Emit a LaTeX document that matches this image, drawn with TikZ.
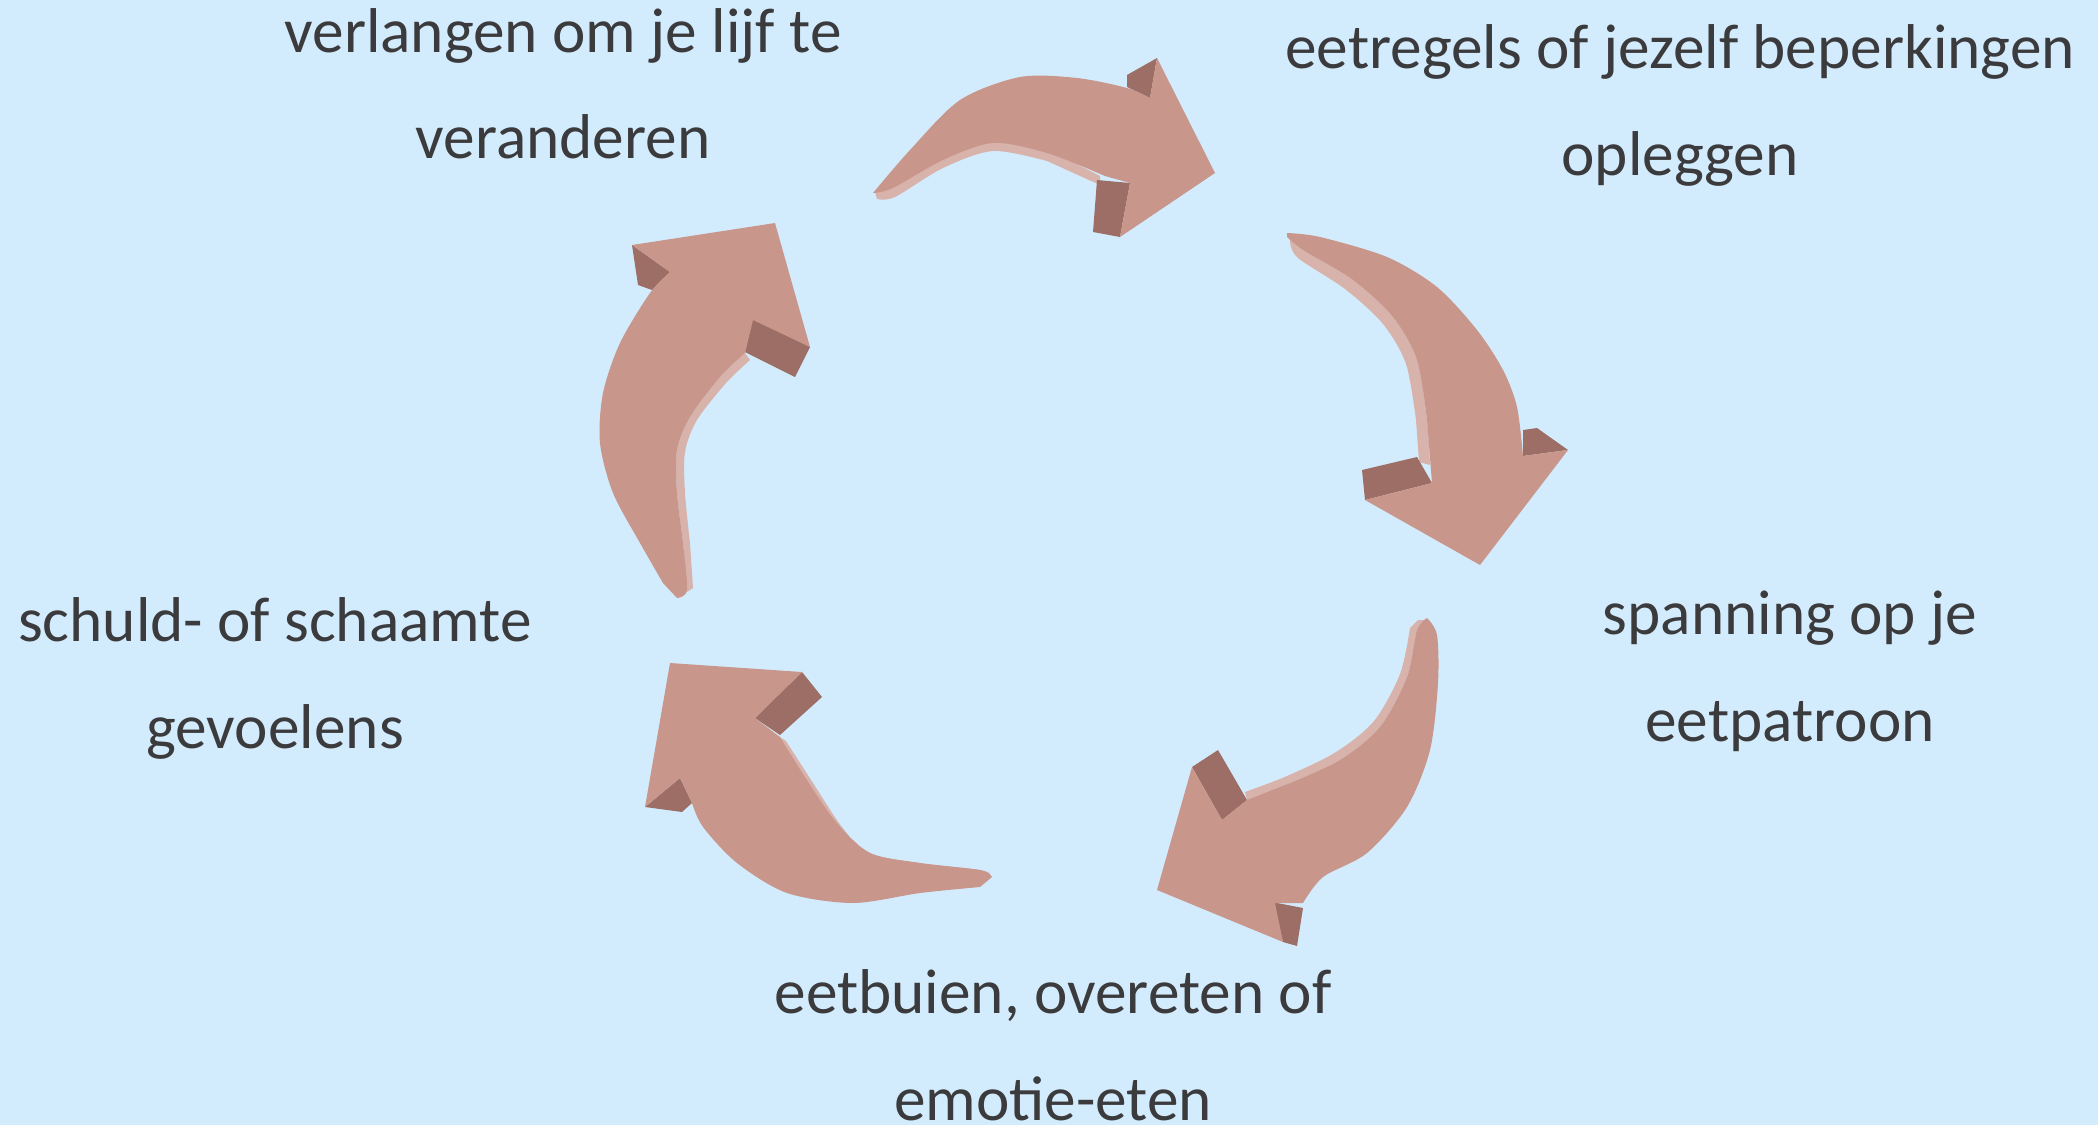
\documentclass[tikz,border=0pt]{standalone}
\usepackage{fontspec}
\setmainfont{Carlito}
\definecolor{bgc}{HTML}{D3ECFD}
\definecolor{frontc}{HTML}{C8968B}
\definecolor{darkc}{HTML}{9C6E65}
\definecolor{underc}{HTML}{D8B3AB}
\definecolor{txtc}{HTML}{3B3B3D}
\begin{document}
\begin{tikzpicture}[x=1pt,y=-1pt,
  lbl/.style={anchor=base,inner sep=0pt,text=txtc,font=\fontsize{63.3}{76}\selectfont},
  front/.style={fill=frontc},
  side/.style={fill=darkc},
  under/.style={fill=underc}]
\useasboundingbox (0,0) rectangle (2098,1125);
\fill[bgc] (0,0) rectangle (2098,1125);

% ---------- arrow 1 (top) ----------
\fill[under] plot[smooth] coordinates {(875,192) (895,187) (943,158) (993,141) (1047,151) (1100,176)} -- (1100,185) -- plot[smooth] coordinates {(1047,161) (993,151) (943,168) (895,197) (877,199)} -- cycle;
\fill[side] (1127,75) -- (1157,58) -- (1150,98) -- (1127,87) -- cycle;
\fill[side] (1097,180) -- (1130,183) -- (1120,237) -- (1093,232) -- cycle;
\fill[front] plot[smooth] coordinates {(873,193) (910,150) (960,100) (1020,77) (1077,78) (1127,88) (1150,98)} -- (1157,58) -- (1215,173) -- (1120,237) -- (1130,183) -- plot[smooth] coordinates {(1105,176) (1047,153) (993,143) (943,160) (893,188) (873,193)} -- cycle;

% ---------- arrow 2 (right) ----------
\fill[under] plot[smooth] coordinates {(1290,240) (1303,250) (1353,280) (1393,317) (1417,360) (1427,420) (1430,465)} -- (1419,462) -- plot[smooth] coordinates {(1416,420) (1406,364) (1383,324) (1345,289) (1298,258) (1290,242)} -- cycle;
\fill[side] (1362,470) -- (1417,457) -- (1432,483) -- (1365,500) -- cycle;
\fill[side] (1523,430) -- (1537,428) -- (1568,450) -- (1523,456) -- cycle;
\fill[front] plot[smooth] coordinates {(1287,233) (1320,237) (1387,257) (1437,287) (1477,330) (1503,370) (1517,407) (1523,456)} -- (1568,450) -- (1480,565) -- (1365,500) -- (1432,483) -- plot[smooth] coordinates {(1427,420) (1417,360) (1393,317) (1353,280) (1303,250) (1287,237)} -- cycle;

% ---------- arrow 3 (bottom right) ----------
\fill[under] plot[smooth] coordinates {(1247,800) (1290,783) (1340,760) (1380,727) (1407,677) (1417,630) (1425,620)} -- (1418,620) -- plot[smooth] coordinates {(1410,628) (1400,674) (1374,721) (1336,752) (1287,776) (1245,792)} -- cycle;
\fill[side] (1192,767) -- (1218,750) -- (1247,800) -- (1222,820) -- cycle;
\fill[side] (1272,902) -- (1303,908) -- (1297,946) -- (1283,942) -- cycle;
\fill[front] plot[smooth] coordinates {(1427,618) (1437,635) (1438,683) (1430,750) (1407,807) (1367,853) (1323,877) (1303,903)} -- (1275,903) -- (1283,942) -- (1157,890) -- (1192,767) -- (1222,820) -- (1247,800) -- plot[smooth] coordinates {(1290,783) (1340,760) (1380,727) (1407,677) (1417,630) (1427,618)} -- cycle;

% ---------- arrow 4 (bottom left) ----------
\fill[under] plot[smooth] coordinates {(780,737) (807,780) (837,823) (870,853) (920,863) (980,870) (990,874)} -- (985,879) -- plot[smooth] coordinates {(980,877) (920,871) (873,860) (842,827) (813,783) (786,741)} -- cycle;
\fill[side] (802,672) -- (822,697) -- (780,735) -- (755,718) -- cycle;
\fill[side] (645,807) -- (680,778) -- (692,803) -- (682,812) -- cycle;
\fill[front] (670,663) -- (802,672) -- (755,718) -- plot[smooth] coordinates {(780,737) (807,780) (837,823) (870,853) (920,863) (980,870) (992,877)} -- plot[smooth] coordinates {(980,887) (920,893) (853,903) (787,893) (737,863) (703,827) (692,803)} -- (680,778) -- (645,807) -- cycle;

% ---------- arrow 5 (left) ----------
\fill[under] plot[smooth] coordinates {(745,353) (720,377) (690,417) (677,450) (677,493) (683,543) (687,592)} -- (693,588) -- plot[smooth] coordinates {(690,543) (685,493) (685,452) (697,420) (726,383) (750,360)} -- cycle;
\fill[side] (632,245) -- (670,272) -- (652,290) -- (638,285) -- cycle;
\fill[side] (753,318) -- (810,347) -- (795,377) -- (745,352) -- cycle;
\fill[front] (775,223) -- (810,347) -- (753,320) -- plot[smooth] coordinates {(745,353) (720,377) (690,417) (677,450) (677,493) (683,543) (687,590) (677,598)} -- plot[smooth] coordinates {(663,583) (640,543) (613,493) (600,443) (603,393) (620,343) (650,293) (670,272)} -- (632,245) -- cycle;

% ---------- labels ----------
\node[lbl] (t1a) at (563,52) {verlangen om je lijf te};
\node[lbl] (t1b) at (563,158) {veranderen};
\node[lbl] (t2a) at (1680,68) {eetregels of jezelf beperkingen};
\node[lbl] (t2b) at (1680,175) {opleggen};
\node[lbl] (t3a) at (1790,634) {spanning op je};
\node[lbl] (t3b) at (1790,741) {eetpatroon};
\node[lbl] (t4a) at (1053,1013) {eetbuien, overeten of};
\node[lbl] (t4b) at (1053,1120) {emotie-eten};
\node[lbl] (t5a) at (275,641) {schuld- of schaamte};
\node[lbl] (t5b) at (275,748) {gevoelens};
\end{tikzpicture}
\end{document}
